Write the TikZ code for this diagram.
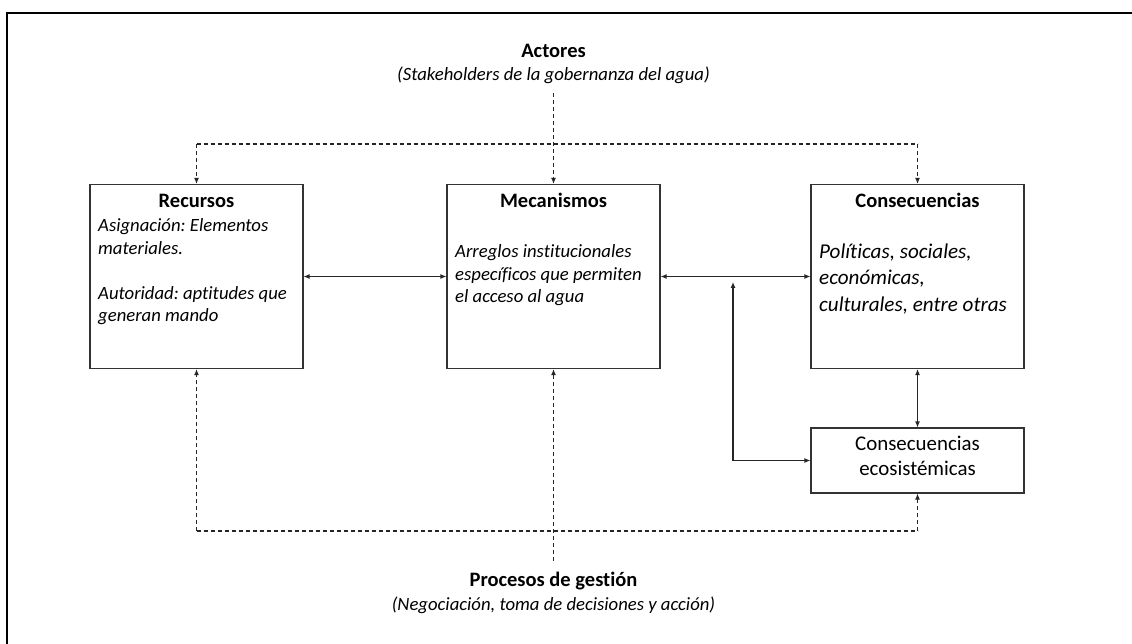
\documentclass[tikz,border=0pt]{standalone}
\usepackage{fontspec}
\setmainfont{Carlito}[Ligatures={NoCommon,NoContextual}]
\usetikzlibrary{arrows.meta,calc}
\frenchspacing

\tikzset{
  x=1pt, y=-1pt,
  box/.style={draw=black!80, line width=1.1pt, inner sep=0pt},
  ttl/.style={font=\fontsize{20.5}{24}\selectfont\bfseries, inner sep=0pt, anchor=base},
  sub/.style={font=\fontsize{18.7}{22.5}\selectfont\itshape, inner sep=0pt, anchor=base},
  body/.style={inner sep=0pt, anchor=base west},
  tip/.tip={Latex[length=6pt,width=5pt]},
  solidlink/.style={draw=black!85, line width=1.1pt},
  dashlink/.style={draw=black!85, line width=1.1pt, dash pattern=on 4pt off 3pt},
}
% italic paragraph: font size, line spacing, text
\newcommand{\bodytext}[3]{\parbox[t]{205pt}{\fontsize{#1}{#2}\selectfont\itshape\raggedright #3}}

\begin{document}
\begin{tikzpicture}
\useasboundingbox (0,0) rectangle (1132,644);

% page frame (top and left edges)
\draw[line width=2.3pt, black] (1132,13) -- (7,13) -- (7,644);

% main boxes
\node[box, minimum width=213pt, minimum height=184pt] (rec) at (196.5,276.5) {};
\node[box, minimum width=213pt, minimum height=184pt] (mec) at (553.5,276.5) {};
\node[box, minimum width=213pt, minimum height=184pt] (con) at (917.5,276.5) {};
\node[box, minimum width=213pt, minimum height=65pt] (eco) at (917.5,460.5) {};

% box titles
\node[ttl] (recT) at (196.5,208) {Recursos};
\node[ttl] (mecT) at (553.5,208) {Mecanismos};
\node[ttl] (conT) at (917.5,208) {Consecuencias};

% box texts
\node[body] (recB) at (98,232) {\bodytext{18.7}{22.5}{Asignación: Elementos\\ materiales.\\[22.5pt]Autoridad: aptitudes que\\ generan mando}};
\node[body] (mecB) at (455,258) {\bodytext{18.7}{22.5}{Arreglos institucionales\\ específicos que permiten\\ el acceso al agua}};
\node[body] (conB) at (819,259) {\bodytext{21.1}{26}{Políticas, sociales,\\ económicas,\\ culturales, entre otras}};
\node[inner sep=0pt, anchor=base] (ecoT) at (917.5,450) {\parbox[t]{200pt}{\fontsize{20.9}{25}\selectfont\centering Consecuencias\\ ecosistémicas}};

% outer labels
\node[ttl] (act) at (553.5,58) {Actores};
\node[sub] (actS) at (553.5,81) {(Stakeholders de la gobernanza del agua)};
\node[ttl] (pro) at (553.5,586) {Procesos de gestión};
\node[sub] (proS) at (553.5,610) {(Negociación, toma de decisiones y acción)};

% helper points for the dashed distribution bars
\coordinate (topbar) at (553.5,144);
\coordinate (botbar) at (553.5,531);
\coordinate (actEnd) at (553.5,93);
\coordinate (proEnd) at (553.5,561);
\coordinate (junc) at (733,282);

% actors feed all three boxes
\draw[dashlink, -tip] (actEnd) -- (mec.north);
\draw[dashlink] (rec.north |- topbar) -- (con.north |- topbar);
\draw[dashlink, -tip] (rec.north |- topbar) -- (rec.north);
\draw[dashlink, -tip] (con.north |- topbar) -- (con.north);

% management processes feed the boxes from below
\draw[dashlink, -tip] (proEnd) -- (mec.south);
\draw[dashlink] (rec.south |- botbar) -- (eco.south |- botbar);
\draw[dashlink, -tip] (rec.south |- botbar) -- (rec.south);
\draw[dashlink, -tip] (eco.south |- botbar) -- (eco.south);

% solid relations
\draw[solidlink, tip-tip] (rec.east) -- (mec.west);
\draw[solidlink, tip-tip] (mec.east) -- (con.west);
\draw[solidlink, tip-tip] (con.south) -- (eco.north);
\draw[solidlink, tip-tip] (junc) -- (junc |- eco.west) -- (eco.west);
\end{tikzpicture}
\end{document}
